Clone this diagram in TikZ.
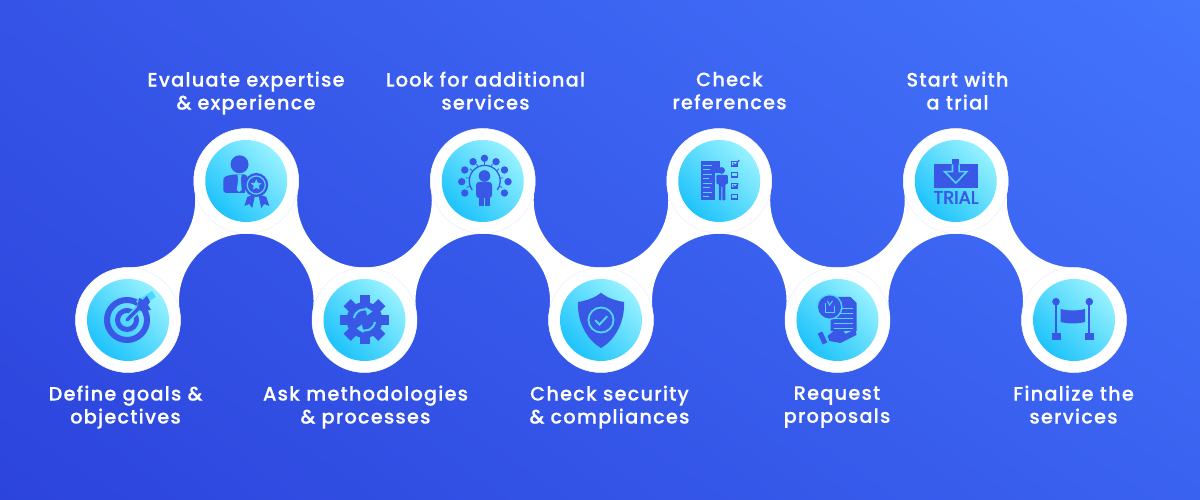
\documentclass[tikz,border=0pt]{standalone}
\usepackage{fontspec}
\usepackage{xcolor}
\setmainfont{Poppins Medium}[LetterSpace=6,FakeBold=0.3]
\newfontfamily\trialfont{Poppins}[FakeBold=2]
\usepackage{tikz}
\usetikzlibrary{arrows.meta,positioning,calc,shadings,shapes.geometric}
\definecolor{bgtl}{HTML}{3554E7}
\definecolor{bgtr}{HTML}{4375FD}
\definecolor{bgbl}{HTML}{2C44DC}
\definecolor{bgbr}{HTML}{3A62F0}
\definecolor{icondark}{HTML}{3A58E6}
\definecolor{discdeep}{HTML}{1EC3FB}
\definecolor{disclight}{HTML}{96F1FF}
\definecolor{ringfaint}{HTML}{ECEEFB}
\definecolor{discmid}{HTML}{4FD6FD}

\begin{document}
\begin{tikzpicture}[x=1pt,y=1pt]
\tikzstyle{band}=[circle,fill=white,draw=ringfaint,line width=.5pt,minimum size=105pt,inner sep=0pt]
\tikzstyle{disc}=[circle,left color=discdeep,right color=disclight,shading angle=135,minimum size=82pt,inner sep=0pt]
\tikzstyle{lbl}=[text=white,align=center,font=\fontsize{19.4}{23}\selectfont,inner sep=0pt,execute at begin node=\strut,execute at end node=\strut]
\useasboundingbox (0,0) rectangle (1200,500);
\shade[upper left=bgtl,upper right=bgtr,lower left=bgbl,lower right=bgbr] (0,0) rectangle (1200,500);

% white ribbon
\coordinate (ribbonstart) at (128,232.5);
\fill[white] (ribbonstart) arc[start angle=270,end angle=369.13,radius=67.27]
  foreach \i in {1,2,3} {
    arc[start angle=189.13,end angle=-9.13,radius=52.5]
    arc[start angle=170.87,end angle=369.13,radius=67.27]
  }
  arc[start angle=189.13,end angle=-9.13,radius=52.5]
  arc[start angle=170.87,end angle=270,radius=67.27]
  arc[start angle=90,end angle=-189.13,radius=52.5]
  foreach \i in {1,2,3} {
    arc[start angle=-9.13,end angle=189.13,radius=67.27]
    arc[start angle=9.13,end angle=-189.13,radius=52.5]
  }
  arc[start angle=-9.13,end angle=189.13,radius=67.27]
  arc[start angle=9.13,end angle=-270,radius=52.5] -- cycle;

% stops
\foreach \nm/\px/\py in {goals/128/180,expert/246.25/319,method/364.5/180,extra/482.75/319,secure/601/180,refs/719.25/319,propo/837.5/180,trial/955.75/319,final/1074/180} {
  \node[band] (\nm) at (\px,\py) {};
  \node[disc] (\nm disc) at (\px,\py) {};
}

% labels
\node[lbl] (goalstxt) at (125.5,92) {Define goals \&\\objectives};
\node[lbl] (experttxt) at (246,406) {Evaluate expertise\\\& experience};
\node[lbl] (methodtxt) at (365.5,92) {Ask methodologies\\\& processes};
\node[lbl] (extratxt) at (485.5,406) {Look for additional\\services};
\node[lbl] (securetxt) at (609.5,92) {Check security\\\& compliances};
\node[lbl] (refstxt) at (729.5,406) {Check\\references};
\node[lbl] (propotxt) at (837,92) {Request\\proposals};
\node[lbl] (trialtxt) at (957.5,406) {Start with\\a trial};
\node[lbl] (finaltxt) at (1073.5,92) {Finalize the\\services};

% target
\begin{scope}[shift={(goals)}]
\draw[icondark,line width=6pt] (-1,0) circle (20);
\draw[icondark,line width=5pt] (-1,0) circle (9.5);
\draw[discmid,line width=7pt] (-1,0) -- (18,19);
\draw[discmid,line width=7pt] (10,16) -- (26,26);
\draw[icondark,line width=3.5pt,line cap=round] (-1,0) -- (14,15);
\fill[icondark] (9,12) -- (11,22) -- (15,20) -- (19,24) -- (22,18) -- (20,15) -- (23,10) -- (13,9) -- cycle;
\end{scope}

% person with rosette
\begin{scope}[shift={(expert)}]
\fill[icondark] (-6.7,16.7) circle (9);
\fill[icondark,rounded corners=3pt] (-23,-12) -- (-23,4) -- (-14,6.5) -- (1,6.5) -- (2,-12) -- cycle;
\fill[discmid] (-9,6.5) -- (-4.5,6.5) -- (-5.5,2) -- (-4.5,-9) -- (-7,-11) -- (-9.5,-9) -- (-8,2) -- cycle;
\fill[discmid] (2,-12) rectangle (-1,-2);
\fill[icondark] (1,-16) -- (-2,-25) -- (3,-23) -- (6,-27) -- (9,-13) -- cycle;
\fill[icondark] (20,-16) -- (23,-25) -- (18,-23) -- (15,-27) -- (12,-13) -- cycle;
\fill[icondark] (10,-4) circle (12);
\draw[discmid,line width=1.2pt] (10,-4) circle (9);
\node[star,star points=5,star point ratio=2,fill=discmid,inner sep=0pt,minimum size=11pt] (expertstar) at (10,-4) {};
\end{scope}

% gear
\begin{scope}[shift={(method)}]
\foreach \a in {0,45,...,315} {
  \fill[icondark,rotate around={\a:(0,0)}] (-5,15) rectangle (5,24.5);
}
\fill[icondark] (0,0) circle (18);
\draw[discmid,line width=2pt] (-10.5,2) arc[start angle=170,end angle=60,radius=10.5];
\fill[discmid] (8,8.5) -- (1,13) -- (2.5,4.5) -- cycle;
\draw[discmid,line width=2pt] (10.5,-2) arc[start angle=-10,end angle=-120,radius=10.5];
\fill[discmid] (-8,-8.5) -- (-1,-13) -- (-2.5,-4.5) -- cycle;
\end{scope}

% person in a ring of contacts
\begin{scope}[shift={(extra)}]
\foreach \dx/\dy in {1.7/22.7,-9.7/19.3,13.3/19.3,-18/11,21.7/11,-21/-0.7,25.3/-0.7,-18/-12,21.7/-12} {
  \fill[icondark] (\dx,\dy) circle (3.7);
}
\draw[icondark,line width=1.3pt] (-10.5,-9) arc[start angle=216,end angle=-36,radius=15.5];
\foreach \a in {-20,10,40,65,90,115,140,170,200} {
  \draw[icondark,line width=.8pt] ($(1.7,0)+(\a:15.5)$) -- ($(1.7,0)+(\a:19)$);
}
\fill[icondark] (1.7,5) circle (5.8);
\fill[icondark,rounded corners=3pt] (-6.7,-17) -- (-6.7,-1) -- (9.3,-1) -- (9.3,-17) -- cycle;
\fill[icondark] (-4,-25.5) rectangle (0.9,-15);
\fill[icondark] (2.5,-25.5) rectangle (7.4,-15);
\end{scope}

% shield
\begin{scope}[shift={(secure)}]
\fill[icondark] (0,27.3) .. controls (5,23) and (13,19.5) .. (23,18)
  .. controls (24,-2) and (14,-20) .. (0,-28)
  .. controls (-14,-20) and (-24,-2) .. (-23,18)
  .. controls (-13,19.5) and (-5,23) .. cycle;
\draw[discmid,line width=1.8pt] (0,0) circle (12.5);
\draw[discmid,line width=2pt,line cap=round] (-5.5,-0.5) -- (-1.5,-4.5) -- (6,3.5);
\end{scope}

% checklist beside a person
\begin{scope}[shift={(refs)}]
\fill[icondark] (-18.5,20) rectangle (0.5,-19.5);
\foreach \ly/\lx in {15.5/-7,11/-9,6.5/-7,2/-10,-2.5/-7,-7/-9,-11.5/-7,-16/-10} {
  \draw[discmid,line width=1pt] (-16,\ly) -- (\lx,\ly);
}
\fill[discmid] (-4,-19.5) rectangle (0.5,8);
\fill[icondark] (2.3,10.5) circle (3.4);
\fill[icondark,rounded corners=1pt] (-3,-3) -- (-3,6) -- (8.5,6) -- (8.5,-3) -- (6,-3) -- (6,-19.5) -- (3,-19.5) -- (3,-5) -- (2,-5) -- (2,-19.5) -- (-0.5,-19.5) -- (-0.5,-3) -- cycle;
\foreach \ry in {15,4,-7,-18} {
  \draw[icondark,line width=1.1pt] (12.5,\ry) rectangle (18,\ry+4.5);
}
\draw[icondark,line width=1.2pt] (14,18) -- (16,15.5) -- (20,21);
\draw[icondark,line width=1.2pt] (14,-4) -- (16,-6.5) -- (19,-2.5);
\end{scope}

% proposal in a hand
\begin{scope}[shift={(propo)}]
\fill[icondark] (-7,-11) -- (-7,23) -- (13,23) -- (19,17) -- (19,-11) -- cycle;
\foreach \ly in {12,7,2,-3,-8} {
  \draw[discmid,line width=.9pt] (-4,\ly) -- (15,\ly);
}
\fill[discmid] (-8,13) circle (13);
\fill[icondark] (-8,13) circle (11.5);
\draw[discmid,line width=1pt] (-12,17) -- (-12,7) -- (-3,7) -- (-3,14);
\draw[discmid,line width=1pt] (-10,19) -- (-8,15) -- (-5,19);
\fill[icondark] (-10,-16) -- (-4,-11) -- (6,-11) -- (8,-14) -- (18,-9) -- (19,-15) -- (3,-23) -- (-8,-21) -- cycle;
\fill[icondark,rotate around={25:(-15,-18)}] (-17.5,-24) rectangle (-12.5,-12);
\end{scope}

% trial box
\begin{scope}[shift={(trial)}]
\fill[icondark] (-21.7,-6.7) rectangle (22.3,16.7);
\fill[icondark] (-3.3,16) rectangle (3.3,21.5);
\draw[discmid,line width=1.6pt,line join=miter,fill=icondark] (-3.3,16.7) -- (-3.3,9.3) -- (-11,9.3) -- (0,-2) -- (11,9.3) -- (3.3,9.3) -- (3.3,16.7);
\node[text=icondark,font=\trialfont\fontsize{18}{18}\selectfont,inner sep=0pt] (trialword) at (0.3,-16.5) {TRIAL};
\end{scope}

% banner between posts
\begin{scope}[shift={(final)}]
\foreach \sx in {-18,15.3} {
  \fill[icondark] (\sx,18.3) circle (3.8);
  \draw[icondark,line width=1.7pt] (\sx,18) -- (\sx,-14);
  \fill[icondark] (\sx-4.5,-20) rectangle (\sx+4.5,-13.5);
}
\fill[icondark] (-13.5,11) .. controls (-5,9) and (3,9) .. (11,11) -- (11,-2) .. controls (3,-4) and (-5,-4) .. (-13.5,-2) -- cycle;
\end{scope}
\end{tikzpicture}
\end{document}
